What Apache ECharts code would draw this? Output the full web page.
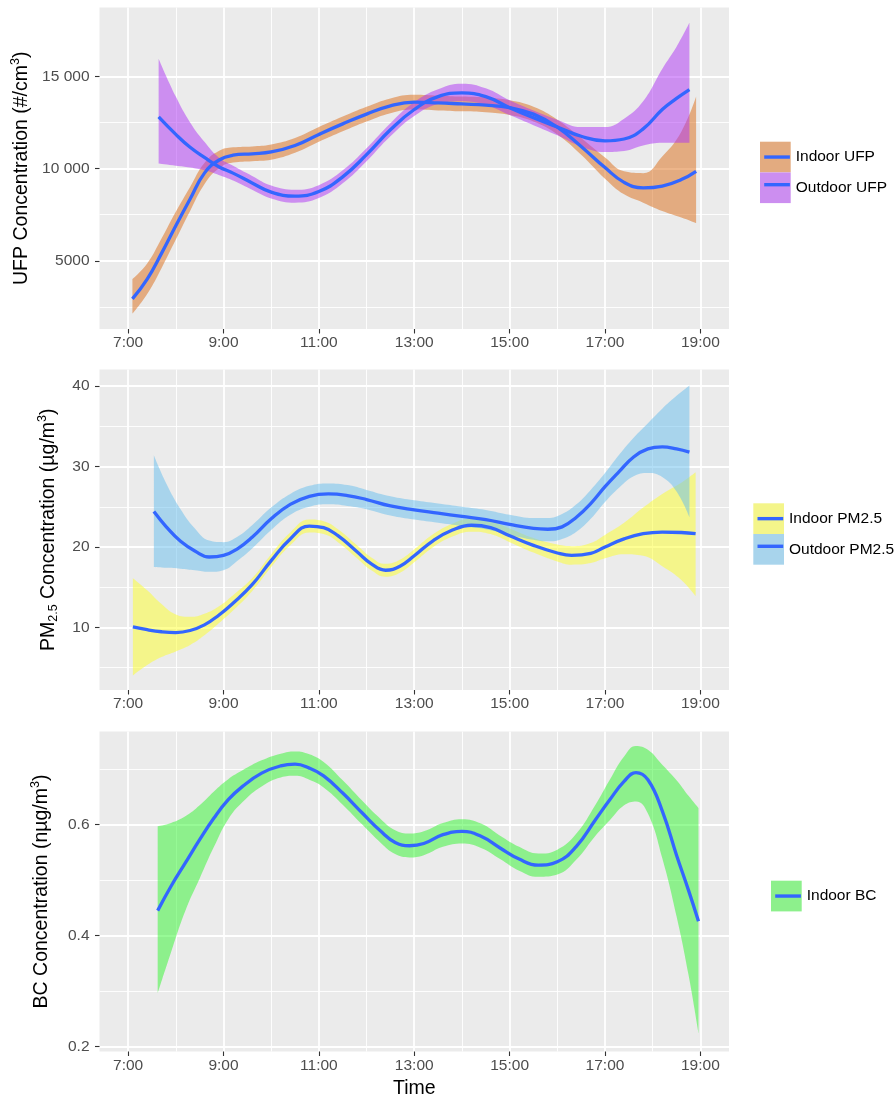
<!DOCTYPE html>
<html><head><meta charset="utf-8">
<script src="https://cdn.jsdelivr.net/npm/echarts@6/dist/echarts.min.js"></script>
<style>html,body{margin:0;padding:0;background:#fff}#c{width:896px;height:1101px}</style>
</head><body><div id="c"></div><script>
// ---------------- data (time in hours of the day) ----------------
const timeTicks = [7, 9, 11, 13, 15, 17, 19];
const timeTickLabels = ['7:00', '9:00', '11:00', '13:00', '15:00', '17:00', '19:00'];
const timeMinorTicks = [8, 10, 12, 14, 16, 18];

const ufpTicks = [5000, 10000, 15000];
const ufpTickLabels = ['5000', '10 000', '15 000'];
const ufpMinorTicks = [2500, 7500, 12500];
const pmTicks = [10, 20, 30, 40];
const pmTickLabels = ['10', '20', '30', '40'];
const pmMinorTicks = [5, 15, 25, 35];
const bcTicks = [0.2, 0.4, 0.6];
const bcTickLabels = ['0.2', '0.4', '0.6'];
const bcMinorTicks = [0.3, 0.5, 0.7];

// Indoor UFP
const indoorUfpTime  = [7.09, 7.4, 7.7, 8.0, 8.3, 8.6, 8.9, 9.2, 9.6, 10.0, 10.5, 11.0, 11.5, 12.0, 12.5, 13.0, 13.5, 14.0, 14.5, 15.0, 15.5, 16.0, 16.5, 17.0, 17.4, 17.8, 18.2, 18.6, 18.91];
const indoorUfpMean  = [2930, 4000, 5400, 6900, 8350, 9750, 10450, 10720, 10800, 10900, 11250, 11850, 12420, 12950, 13400, 13600, 13560, 13500, 13440, 13300, 12950, 12250, 11200, 10050, 9250, 8950, 9050, 9400, 9850];
const indoorUfpLower = [2130, 3200, 4600, 6150, 7700, 9150, 10000, 10320, 10400, 10480, 10850, 11450, 12020, 12550, 13000, 13200, 13150, 13100, 13050, 12900, 12550, 11850, 10750, 9450, 8600, 8150, 7700, 7350, 7050];
const indoorUfpUpper = [4010, 4850, 6200, 7650, 9000, 10300, 10950, 11150, 11200, 11300, 11650, 12250, 12820, 13350, 13800, 14000, 13950, 13900, 13850, 13700, 13350, 12650, 11650, 10600, 9850, 9750, 10650, 12000, 13900];

// Outdoor UFP
const outdoorUfpTime  = [7.64, 8.0, 8.3, 8.6, 8.9, 9.2, 9.6, 10.0, 10.5, 11.0, 11.5, 12.0, 12.5, 13.0, 13.5, 14.0, 14.5, 15.0, 15.5, 16.0, 16.5, 17.0, 17.4, 17.8, 18.2, 18.5, 18.77];
const outdoorUfpMean  = [12800, 11850, 11150, 10600, 10100, 9750, 9220, 8720, 8500, 8750, 9550, 10750, 12100, 13200, 13900, 14100, 13900, 13300, 12750, 12250, 11750, 11500, 11600, 12150, 13200, 13800, 14280];
const outdoorUfpLower = [10270, 10150, 10050, 9900, 9650, 9350, 8850, 8380, 8150, 8400, 9200, 10400, 11750, 12850, 13500, 13650, 13450, 12900, 12350, 11800, 11200, 10900, 10950, 11250, 11400, 11400, 11400];
const outdoorUfpUpper = [15950, 13900, 12500, 11450, 10600, 10150, 9600, 9080, 8850, 9100, 9900, 11100, 12450, 13600, 14300, 14600, 14350, 13700, 13150, 12650, 12250, 12250, 12700, 13650, 15400, 16600, 17900];

// Indoor PM2.5
const indoorPmTime  = [7.1, 7.4, 7.7, 8.0, 8.3, 8.6, 8.9, 9.2, 9.6, 10.0, 10.4, 10.8, 11.1, 11.4, 11.8, 12.1, 12.4, 12.7, 13.0, 13.4, 13.8, 14.2, 14.6, 15.0, 15.5, 16.0, 16.3, 16.7, 17.0, 17.4, 17.8, 18.2, 18.6, 18.9];
const indoorPmMean  = [10.05, 9.7, 9.45, 9.35, 9.6, 10.3, 11.5, 13.0, 15.3, 18.3, 21.0, 22.6, 22.4, 21.4, 19.4, 17.9, 17.1, 17.6, 18.9, 20.8, 22.1, 22.7, 22.4, 21.4, 20.2, 19.25, 18.95, 19.2, 20.0, 21.0, 21.65, 21.85, 21.8, 21.65];
const indoorPmLower = [4.0, 5.3, 6.3, 7.0, 7.8, 9.0, 10.5, 12.1, 14.5, 17.5, 20.2, 21.8, 21.6, 20.6, 18.6, 17.1, 16.3, 16.8, 18.1, 20.0, 21.3, 21.9, 21.6, 20.6, 19.3, 18.2, 17.8, 18.0, 18.6, 19.1, 18.9, 17.6, 15.9, 13.9];
const indoorPmUpper = [16.1, 14.6, 12.9, 11.6, 11.3, 11.7, 12.6, 14.0, 16.1, 19.1, 21.8, 23.4, 23.2, 22.2, 20.2, 18.7, 17.9, 18.4, 19.7, 21.6, 22.9, 23.5, 23.2, 22.3, 21.1, 20.3, 20.1, 20.5, 21.5, 23.0, 24.9, 26.6, 28.0, 29.3];

// Outdoor PM2.5
const outdoorPmTime  = [7.54, 7.8, 8.1, 8.4, 8.7, 9.0, 9.3, 9.6, 10.0, 10.4, 10.8, 11.2, 11.6, 12.0, 12.5, 13.0, 13.5, 14.0, 14.5, 15.0, 15.5, 15.8, 16.1, 16.4, 16.7, 17.0, 17.3, 17.6, 17.9, 18.2, 18.5, 18.77];
const outdoorPmMean  = [24.4, 22.5, 20.7, 19.5, 18.75, 18.95, 19.8, 21.2, 23.5, 25.3, 26.3, 26.6, 26.4, 25.9, 25.1, 24.6, 24.2, 23.8, 23.4, 22.8, 22.3, 22.2, 22.5, 23.7, 25.4, 27.5, 29.4, 31.2, 32.2, 32.45, 32.2, 31.8];
const outdoorPmLower = [17.5, 17.4, 17.3, 17.1, 16.9, 17.1, 18.3, 19.8, 22.1, 24.0, 25.0, 25.3, 25.1, 24.7, 23.9, 23.4, 23.0, 22.6, 22.2, 21.5, 20.9, 20.7, 21.0, 21.9, 23.5, 25.6, 27.4, 28.8, 29.2, 28.7, 26.9, 23.7];
const outdoorPmUpper = [31.4, 27.9, 24.7, 22.3, 20.8, 20.6, 21.3, 22.7, 24.9, 26.6, 27.6, 27.9, 27.7, 27.1, 26.3, 25.8, 25.4, 25.0, 24.6, 24.0, 23.6, 23.6, 24.1, 25.3, 27.1, 29.2, 31.5, 33.6, 35.4, 37.2, 38.8, 40.1];

// Indoor BC
const indoorBcTime  = [7.62, 7.9, 8.2, 8.5, 8.8, 9.1, 9.4, 9.8, 10.2, 10.5, 10.8, 11.1, 11.5, 11.9, 12.3, 12.6, 12.9, 13.2, 13.6, 14.0, 14.4, 14.8, 15.2, 15.6, 16.0, 16.4, 16.8, 17.1, 17.4, 17.65, 17.9, 18.2, 18.5, 18.75, 18.96];
const indoorBcMean  = [0.445, 0.489, 0.531, 0.573, 0.612, 0.645, 0.669, 0.693, 0.706, 0.709, 0.702, 0.688, 0.657, 0.622, 0.588, 0.568, 0.562, 0.566, 0.582, 0.588, 0.579, 0.558, 0.538, 0.527, 0.533, 0.561, 0.609, 0.645, 0.678, 0.694, 0.681, 0.625, 0.545, 0.482, 0.426];
const indoorBcLower = [0.296, 0.370, 0.445, 0.503, 0.560, 0.610, 0.641, 0.669, 0.685, 0.688, 0.681, 0.667, 0.636, 0.601, 0.567, 0.547, 0.541, 0.545, 0.560, 0.566, 0.558, 0.538, 0.517, 0.506, 0.510, 0.537, 0.580, 0.608, 0.635, 0.642, 0.620, 0.540, 0.435, 0.330, 0.224];
const indoorBcUpper = [0.597, 0.603, 0.615, 0.635, 0.660, 0.682, 0.698, 0.716, 0.728, 0.732, 0.727, 0.713, 0.680, 0.644, 0.610, 0.590, 0.584, 0.588, 0.603, 0.610, 0.602, 0.580, 0.560, 0.548, 0.555, 0.584, 0.636, 0.681, 0.723, 0.742, 0.735, 0.708, 0.680, 0.652, 0.630];

// ---------------- styling ----------------
const FONT = '"Liberation Sans", Arial, Helvetica, sans-serif';
const LINE_BLUE = '#3366FF';
const TICK_FS = 15.5, TITLE_FS = 19.5;
const S = 0.45;

const grids = [
  {left: 99.5, top: 7.5, width: 629.5, height: 321.5},
  {left: 99.5, top: 369.5, width: 629.5, height: 320.5},
  {left: 99.5, top: 731.5, width: 629.5, height: 320}
];

function labelFor(ticks, labels) {
  return function (v) {
    for (let i = 0; i < ticks.length; i++) if (Math.abs(ticks[i] - v) < 1e-6 * Math.max(1, Math.abs(v))) return labels[i];
    return '';
  };
}

const richTitle = {
  t: {fontSize: TITLE_FS, fontFamily: FONT, color: '#000', lineHeight: 24},
  sup: {fontSize: 12.5, fontFamily: FONT, color: '#000', lineHeight: 13, verticalAlign: 'top'},
  sub: {fontSize: 12.5, fontFamily: FONT, color: '#000', lineHeight: 13, verticalAlign: 'bottom'}
};

function xAxes(gi, withName) {
  return [
    {
      type: 'value', gridIndex: gi, min: 6.4, max: 19.6,
      name: withName ? 'Time' : '', nameLocation: 'middle', nameGap: 27,
      nameTextStyle: {fontSize: TITLE_FS, fontFamily: FONT, color: '#000'},
      axisLine: {show: false},
      axisTick: {show: true, length: 4.5, customValues: timeTicks, lineStyle: {color: '#333', width: 1.1}},
      axisLabel: {customValues: timeTicks, formatter: labelFor(timeTicks, timeTickLabels), margin: 6,
                  color: '#4D4D4D', fontSize: TICK_FS, fontFamily: FONT},
      splitLine: {show: true, lineStyle: {color: '#fff', width: 1.8}}
    },
    {
      type: 'value', gridIndex: gi, min: 6.4, max: 19.6, position: 'bottom',
      axisLine: {show: false},
      axisTick: {show: false, customValues: timeMinorTicks},
      axisLabel: {show: false, customValues: timeMinorTicks},
      splitLine: {show: true, lineStyle: {color: '#fff', width: 0.9}}
    }
  ];
}

function yAxes(gi, min, max, ticks, labels, minor, name, nameGap) {
  return [
    {
      type: 'value', gridIndex: gi, min: min, max: max,
      name: name, nameLocation: 'middle', nameGap: nameGap,
      nameTextStyle: {rich: richTitle, fontSize: TITLE_FS, fontFamily: FONT, color: '#000'},
      axisLine: {show: false},
      axisTick: {show: true, length: 4.5, customValues: ticks, lineStyle: {color: '#333', width: 1.1}},
      axisLabel: {customValues: ticks, formatter: labelFor(ticks, labels), margin: 10,
                  color: '#4D4D4D', fontSize: TICK_FS, fontFamily: FONT},
      splitLine: {show: true, lineStyle: {color: '#fff', width: 1.8}}
    },
    {
      type: 'value', gridIndex: gi, min: min, max: max, position: 'left',
      axisLine: {show: false},
      axisTick: {show: false, customValues: minor},
      axisLabel: {show: false, customValues: minor},
      splitLine: {show: true, lineStyle: {color: '#fff', width: 0.9}}
    }
  ];
}

// Band = invisible lower line + stacked (upper - lower) area. The value column is put
// first so that ECharts stacks the y (value) dimension rather than the x (time) one.
function smoothSeries(name, gi, time, mean, lower, upper, bandColor) {
  const ax = {xAxisIndex: gi * 2, yAxisIndex: gi * 2};
  const stackId = 'stack_' + name;
  const enc = {dimensions: ['value', 'time'], encode: {x: 'time', y: 'value'}};
  return [
    Object.assign({
      type: 'line', name: name + ' (lower)', stack: stackId, smooth: S, symbol: 'none', silent: true,
      data: time.map((t, i) => [lower[i], t]),
      lineStyle: {width: 0, opacity: 0}, itemStyle: {color: bandColor}
    }, enc, ax),
    Object.assign({
      type: 'line', name: name, stack: stackId, smooth: S, symbol: 'none', silent: true,
      data: time.map((t, i) => [upper[i] - lower[i], t]),
      lineStyle: {width: 0, opacity: 0}, itemStyle: {color: bandColor},
      areaStyle: {color: bandColor, opacity: 0.5}
    }, enc, ax),
    Object.assign({
      type: 'line', name: name + ' fit', smooth: S, symbol: 'none', silent: true,
      data: time.map((t, i) => [t, mean[i]]),
      lineStyle: {color: LINE_BLUE, width: 3.3}, itemStyle: {color: LINE_BLUE}
    }, ax)
  ];
}

function legendPair(items, left, top) {
  const common = {orient: 'vertical', top: top, itemHeight: 30.7, itemGap: 0, padding: 0, selectedMode: false};
  return [
    Object.assign({}, common, {
      left: left, itemWidth: 30.7, icon: 'rect',
      data: items.map(it => ({name: it.name, itemStyle: {color: it.key, borderWidth: 0, opacity: 1}})),
      textStyle: {fontSize: TICK_FS, fontFamily: FONT, color: '#000'}
    }),
    Object.assign({}, common, {
      left: left + 2.5, itemWidth: 25.7,
      data: items.map(it => it.name + ' fit'),
      formatter: function () { return ''; },
      itemStyle: {opacity: 0},
      lineStyle: {width: 3.4}
    })
  ];
}

const chart = echarts.init(document.getElementById('c'), null, {renderer: 'canvas'});
const option = {
  animation: false,
  backgroundColor: '#fff',
  grid: grids.map(g => Object.assign({show: true, backgroundColor: '#EBEBEB', borderWidth: 0}, g)),
  xAxis: [].concat(xAxes(0, false), xAxes(1, false), xAxes(2, true)),
  yAxis: [].concat(
    yAxes(0, 1300, 18730, ufpTicks, ufpTickLabels, ufpMinorTicks, '{t|UFP Concentration (#/cm}{sup|3}{t|)}', 63),
    yAxes(1, 2.2, 42.08, pmTicks, pmTickLabels, pmMinorTicks, '{t|PM}{sub|2.5}{t| Concentration (µg/m}{sup|3}{t|)}', 39),
    yAxes(2, 0.191, 0.768, bcTicks, bcTickLabels, bcMinorTicks, '{t|BC Concentration (nµg/m}{sup|3}{t|)}', 46)
  ),
  legend: [].concat(
    legendPair([{name: 'Indoor UFP', key: '#E3AB80'}, {name: 'Outdoor UFP', key: '#CC8EF0'}], 760, 141.7),
    legendPair([{name: 'Indoor PM2.5', key: '#F4F58A'}, {name: 'Outdoor PM2.5', key: '#A8D4EC'}], 753.3, 503.3),
    legendPair([{name: 'Indoor BC', key: '#8DF08C'}], 771, 880.7)
  ),
  series: [].concat(
    smoothSeries('Indoor UFP', 0, indoorUfpTime, indoorUfpMean, indoorUfpLower, indoorUfpUpper, '#DB6B15'),
    smoothSeries('Outdoor UFP', 0, outdoorUfpTime, outdoorUfpMean, outdoorUfpLower, outdoorUfpUpper, '#AD31F5'),
    smoothSeries('Indoor PM2.5', 1, indoorPmTime, indoorPmMean, indoorPmLower, indoorPmUpper, '#FDFF29'),
    smoothSeries('Outdoor PM2.5', 1, outdoorPmTime, outdoorPmMean, outdoorPmLower, outdoorPmUpper, '#65BDED'),
    smoothSeries('Indoor BC', 2, indoorBcTime, indoorBcMean, indoorBcLower, indoorBcUpper, '#2FF52D')
  )
};
chart.setOption(option);
</script></body></html>
